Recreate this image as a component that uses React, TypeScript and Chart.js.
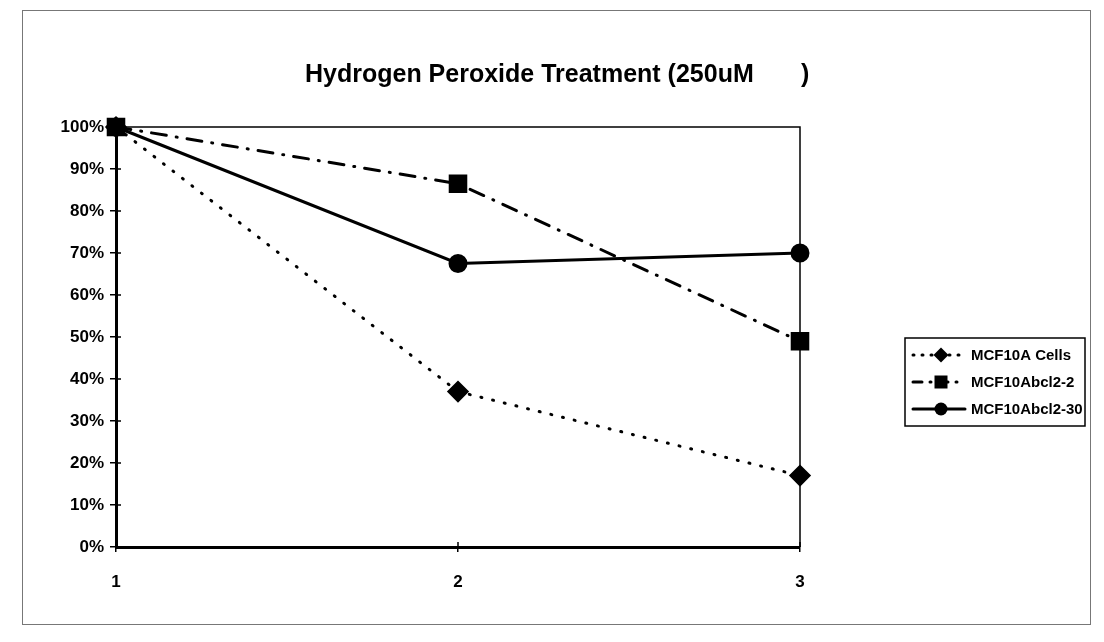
import React, { useEffect, useRef } from "react";
import { Chart, registerables } from "chart.js";

Chart.register(...registerables);

const titleMain = "Hydrogen Peroxide Treatment (250uM";
const titleClose = ")";
const xValues = [1, 2, 3];
const seriesNames = ["MCF10A Cells", "MCF10Abcl2-2", "MCF10Abcl2-30"];
const mcf10a = [1.0, 0.37, 0.17];
const bcl2_2 = [1.0, 0.865, 0.49];
const bcl2_30 = [1.0, 0.675, 0.7];
const yTicks = [0, 0.1, 0.2, 0.3, 0.4, 0.5, 0.6, 0.7, 0.8, 0.9, 1.0];

const FONT = "'Liberation Sans', Arial, sans-serif";

const styles = [
  { dash: [1, 11], legendDash: [1, 8], style: "rectRot", radius: 9 },
  { dash: [15, 10, 1, 10], legendDash: [9, 8, 1, 8], style: "rect", radius: 11 },
  { dash: [], legendDash: [], style: "circle", radius: 8 },
];

const extrasPlugin = {
  id: "extras",
  afterDraw(chart: any) {
    const ctx = chart.ctx;
    const a = chart.chartArea;
    ctx.save();
    // outer frame
    ctx.strokeStyle = "#777";
    ctx.lineWidth = 1;
    ctx.strokeRect(14.5, 2.5, 1068, 614);
    // plot frame top/right
    ctx.strokeStyle = "#000";
    ctx.lineWidth = 1.5;
    ctx.beginPath();
    ctx.moveTo(a.left, a.top);
    ctx.lineTo(a.right, a.top);
    ctx.lineTo(a.right, a.bottom);
    ctx.stroke();
    // inner tick marks
    const ys = chart.scales.y;
    const xs = chart.scales.x;
    ctx.lineWidth = 1.5;
    ctx.beginPath();
    yTicks.forEach((v) => {
      const py = ys.getPixelForValue(v);
      ctx.moveTo(a.left, py);
      ctx.lineTo(a.left + 5, py);
    });
    xValues.forEach((v) => {
      const px = xs.getPixelForValue(v);
      ctx.moveTo(px, a.bottom);
      ctx.lineTo(px, a.bottom - 5);
    });
    ctx.stroke();
    // title
    ctx.fillStyle = "#000";
    ctx.font = `bold 25px ${FONT}`;
    ctx.textAlign = "left";
    ctx.textBaseline = "middle";
    ctx.fillText(titleMain, 297, 67);
    ctx.fillText(titleClose, 793, 67);
    // legend
    const lx = 897, ly = 330, lw = 180, lh = 88;
    ctx.lineWidth = 1.5;
    ctx.strokeRect(lx, ly, lw, lh);
    ctx.font = `bold 15px ${FONT}`;
    ctx.textAlign = "left";
    chart.data.datasets.forEach((ds: any, i: number) => {
      const y = ly + 17 + i * 27;
      ctx.strokeStyle = "#000";
      ctx.lineWidth = 3;
      ctx.lineCap = "round";
      ctx.setLineDash(styles[i].legendDash);
      ctx.beginPath();
      ctx.moveTo(lx + 8, y);
      ctx.lineTo(lx + 60, y);
      ctx.stroke();
      ctx.setLineDash([]);
      ctx.fillStyle = "#000";
      const mx = lx + 36;
      const r = 7.5;
      ctx.beginPath();
      if (styles[i].style === "rectRot") {
        ctx.moveTo(mx, y - r);
        ctx.lineTo(mx + r, y);
        ctx.lineTo(mx, y + r);
        ctx.lineTo(mx - r, y);
        ctx.closePath();
      } else if (styles[i].style === "rect") {
        ctx.rect(mx - 6.5, y - 6.5, 13, 13);
      } else {
        ctx.arc(mx, y, 6.5, 0, Math.PI * 2);
      }
      ctx.fill();
      ctx.fillText(ds.label, lx + 66, y + 1);
    });
    ctx.restore();
  },
};

export default function App() {
  const ref = useRef<HTMLCanvasElement>(null);
  useEffect(() => {
    if (!ref.current) return;
    const data = [mcf10a, bcl2_2, bcl2_30];
    const chart = new Chart(ref.current, {
      type: "line",
      data: {
        datasets: data.map((vals, i) => ({
          label: seriesNames[i],
          data: vals.map((v, j) => ({ x: xValues[j], y: v })),
          borderColor: "#000",
          backgroundColor: "#000",
          borderWidth: 3,
          borderDash: styles[i].dash,
          borderCapStyle: "round",
          pointStyle: styles[i].style as any,
          pointRadius: styles[i].radius,
          pointBackgroundColor: "#000",
          pointBorderColor: "#000",
          tension: 0,
          clip: false as any,
        })),
      },
      options: {
        animation: false,
        responsive: false,
        layout: { padding: { left: 38, top: 119, right: 296, bottom: 27 } },
        plugins: { legend: { display: false }, title: { display: false }, tooltip: { enabled: false } },
        scales: {
          x: {
            type: "linear",
            min: 1,
            max: 3,
            afterFit: (s: any) => { s.height = 60; },
            afterBuildTicks: (s: any) => { s.ticks = xValues.map((v) => ({ value: v })); },
            ticks: {
              color: "#000",
              font: { family: FONT, size: 17, weight: "bold" },
              padding: 20,
              callback: (v: any) => String(v),
            },
            grid: { display: true, drawOnChartArea: false, tickLength: 5, color: "#000", lineWidth: 1.5 },
            border: { display: true, color: "#000", width: 3 },
          },
          y: {
            type: "linear",
            min: 0,
            max: 1,
            afterFit: (s: any) => { s.width = 70; },
            afterBuildTicks: (s: any) => { s.ticks = yTicks.map((v) => ({ value: v })); },
            ticks: {
              color: "#000",
              font: { family: FONT, size: 17, weight: "bold" },
              padding: 6,
              callback: (v: any) => `${Math.round(Number(v) * 100)}%`,
            },
            grid: { display: true, drawOnChartArea: false, tickLength: 6, color: "#000", lineWidth: 1.5 },
            border: { display: true, color: "#000", width: 3 },
          },
        },
      },
      plugins: [extrasPlugin],
    });
    return () => chart.destroy();
  }, []);
  return (
    <div style={{ width: 1088, height: 626 }}>
      <canvas ref={ref} width={1088} height={626} style={{ display: "block" }} />
    </div>
  );
}
